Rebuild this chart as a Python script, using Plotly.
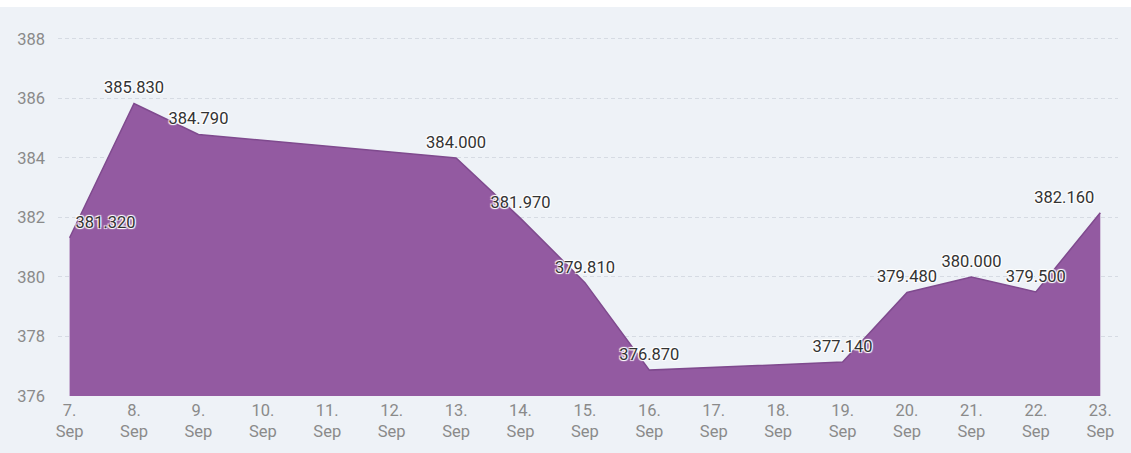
import plotly.graph_objects as go

# data
days = [7, 8, 9, 13, 14, 15, 16, 19, 20, 21, 22, 23]
values = [381.320, 385.830, 384.790, 384.000, 381.970, 379.810,
          376.870, 377.140, 379.480, 380.000, 379.500, 382.160]
tick_days = list(range(7, 24))
tick_labels = [f"{d}.<br>Sep" for d in tick_days]
y_ticks = [376, 378, 380, 382, 384, 386, 388]

positions = ["top center"] * len(days)
positions[0] = "top right"
positions[-1] = "top left"

fig = go.Figure()
fig.add_trace(go.Scatter(
    x=days, y=values,
    mode="lines+markers+text",
    fill="tozeroy",
    fillcolor="#935aa1",
    line=dict(color="#7f4a8e", width=1.5),
    marker=dict(size=8, opacity=0, color="#7f4a8e"),
    texttemplate="%{y:.3f}",
    textposition=positions,
    textfont=dict(family="Roboto", size=16.5, color="#333333", shadow="auto"),
    cliponaxis=False,
    hoverinfo="skip",
))

fig.update_layout(
    width=1131, height=453,
    paper_bgcolor="#eef2f7",
    plot_bgcolor="#eef2f7",
    margin=dict(l=58, r=13, t=25, b=55),
    showlegend=False,
    font=dict(family="Roboto"),
    shapes=[dict(type="rect", xref="paper", yref="paper",
                 x0=-0.1, x1=1.1, y0=1 + 18 / 373, y1=1 + 30 / 373,
                 fillcolor="white", line=dict(width=0), layer="above")],
)
fig.update_xaxes(
    range=[6.82, 23.275],
    tickmode="array", tickvals=tick_days, ticktext=tick_labels,
    showgrid=False, zeroline=False, showline=False,
    tickfont=dict(family="Roboto", size=16.5, color="#8a8a8a"),
    ticklabelstandoff=2,
)
fig.update_yaxes(
    range=[376, 388.47],
    tickmode="array", tickvals=y_ticks,
    showgrid=True, gridcolor="#d6dbe3", griddash="4px,3px", gridwidth=1,
    zeroline=False, showline=False,
    tickfont=dict(family="Roboto", size=16.5, color="#8a8a8a"),
    ticklabelstandoff=12,
)

fig.write_html("out.html", config={"displayModeBar": False},
               post_script="document.body.style.margin='0';")
